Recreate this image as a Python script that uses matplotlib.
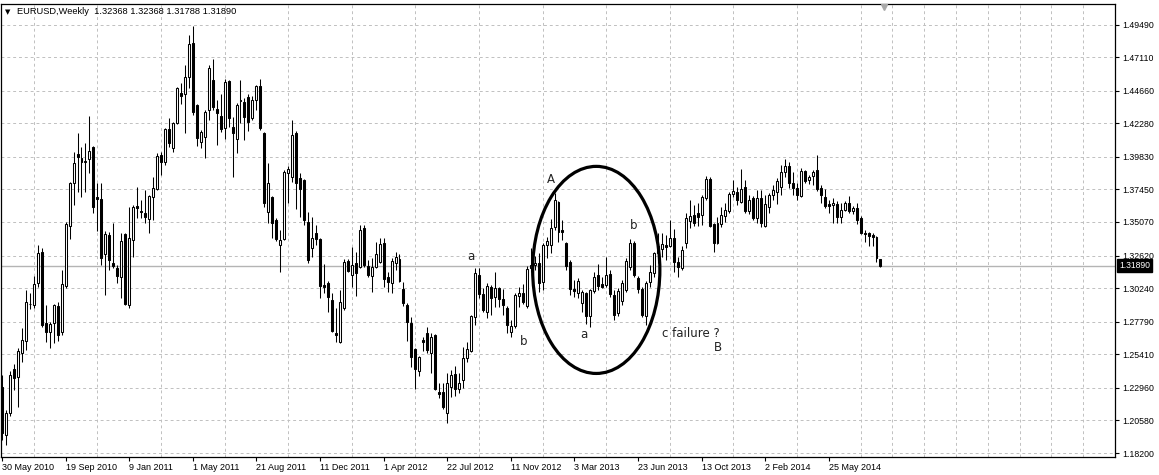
import matplotlib
matplotlib.use("Agg")
import matplotlib.pyplot as plt
import matplotlib.patches as patches

# ── Weekly EURUSD bars, first bar = week of 30 May 2010 ───────────────────────
opens = [
    1.2300, 1.1953, 1.2113, 1.2434, 1.2376, 1.2551, 1.2639, 1.2909, 1.2902, 1.3062,
    1.3288, 1.2770, 1.2704, 1.2770, 1.2894, 1.2704, 1.3040, 1.3478, 1.3792, 1.4004,
    1.3975, 1.3945, 1.3967, 1.4055, 1.3690, 1.3675, 1.3274, 1.3413, 1.3208, 1.3172,
    1.3106, 1.3420, 1.2902, 1.3376, 1.3624, 1.3588, 1.3573, 1.3529, 1.3690, 1.3748,
    1.3997, 1.3945, 1.4186, 1.4048, 1.4230, 1.4449, 1.4442, 1.4566, 1.4814, 1.4362,
    1.4091, 1.4128, 1.4325, 1.4544, 1.4332, 1.4281, 1.4194, 1.4537, 1.4201, 1.4113,
    1.4391, 1.4383, 1.4420, 1.4267, 1.4398, 1.4500, 1.4157, 1.3580, 1.3690, 1.3522,
    1.3340, 1.3383, 1.3865, 1.3836, 1.4157, 1.3829, 1.3814, 1.3507, 1.3318, 1.3427,
    1.3383, 1.3048, 1.3062, 1.2938, 1.2697, 1.2632, 1.2880, 1.3223, 1.3121, 1.3208,
    1.3179, 1.3464, 1.3186, 1.3113, 1.3179, 1.3215, 1.3354, 1.3106, 1.3062, 1.3208,
    1.3237, 1.3018, 1.2902, 1.2770, 1.2580, 1.2420, 1.2646, 1.2697, 1.2551, 1.2683,
    1.2266, 1.2266, 1.2113, 1.2303, 1.2398, 1.2288, 1.2354, 1.2515, 1.2566, 1.2814,
    1.3121, 1.2982, 1.2850, 1.3033, 1.2960, 1.3026, 1.2945, 1.2880, 1.2704, 1.2748,
    1.2967, 1.2989, 1.2894, 1.3172, 1.3193, 1.3208, 1.3069, 1.3340, 1.3340, 1.3471,
    1.3653, 1.3449, 1.3354, 1.3215, 1.3018, 1.2989, 1.2916, 1.2989, 1.2821, 1.3004,
    1.3121, 1.3055, 1.3048, 1.3128, 1.2975, 1.2843, 1.2931, 1.3011, 1.3179, 1.3354,
    1.3099, 1.3018, 1.2821, 1.3069, 1.3135, 1.3281, 1.3310, 1.3340, 1.3332, 1.3391,
    1.3215, 1.3172, 1.3354, 1.3515, 1.3559, 1.3573, 1.3559, 1.3683, 1.3821, 1.3493,
    1.3354, 1.3493, 1.3551, 1.3588, 1.3712, 1.3726, 1.3653, 1.3763, 1.3588, 1.3683,
    1.3537, 1.3683, 1.3478, 1.3617, 1.3705, 1.3726, 1.3763, 1.3872, 1.3916, 1.3792,
    1.3756, 1.3697, 1.3880, 1.3814, 1.3843, 1.3887, 1.3756, 1.3690, 1.3639, 1.3631,
    1.3639, 1.3544, 1.3595, 1.3646, 1.3588, 1.3610, 1.3537, 1.3427, 1.3427, 1.3413,
    1.3398, 1.32368,
]
highs = [
    1.2391, 1.2135, 1.2420, 1.2471, 1.2588, 1.2734, 1.3011, 1.2989, 1.3113, 1.3340,
    1.3318, 1.2902, 1.2777, 1.2909, 1.2923, 1.3157, 1.3507, 1.3800, 1.4018, 1.4157,
    1.4055, 1.4084, 1.4281, 1.4062, 1.3792, 1.3792, 1.3442, 1.3434, 1.3500, 1.3193,
    1.3427, 1.3427, 1.3617, 1.3631, 1.3763, 1.3668, 1.3741, 1.3705, 1.3836, 1.4011,
    1.4018, 1.4194, 1.4267, 1.4237, 1.4493, 1.4522, 1.4653, 1.4873, 1.4938, 1.4369,
    1.4179, 1.4325, 1.4653, 1.4697, 1.4398, 1.4442, 1.4551, 1.4544, 1.4274, 1.4376,
    1.4544, 1.4413, 1.4442, 1.4427, 1.4508, 1.4551, 1.4164, 1.3938, 1.3697, 1.3537,
    1.3449, 1.3887, 1.3916, 1.4252, 1.4172, 1.3865, 1.3821, 1.3580, 1.3544, 1.3486,
    1.3391, 1.3201, 1.3077, 1.2989, 1.2880, 1.3011, 1.3237, 1.3237, 1.3325, 1.3288,
    1.3486, 1.3486, 1.3230, 1.3245, 1.3361, 1.3391, 1.3391, 1.3142, 1.3245, 1.3288,
    1.3274, 1.3069, 1.2916, 1.2814, 1.2588, 1.2529, 1.2668, 1.2741, 1.2697, 1.2690,
    1.2332, 1.2332, 1.2405, 1.2427, 1.2456, 1.2405, 1.2595, 1.2632, 1.2829, 1.3172,
    1.3172, 1.3026, 1.3062, 1.3048, 1.3142, 1.3033, 1.3018, 1.2894, 1.2792, 1.2989,
    1.3033, 1.3055, 1.3186, 1.3318, 1.3259, 1.3281, 1.3354, 1.3398, 1.3529, 1.3719,
    1.3661, 1.3522, 1.3361, 1.3230, 1.3084, 1.3099, 1.3011, 1.2996, 1.3018, 1.3142,
    1.3201, 1.3106, 1.3252, 1.3157, 1.3011, 1.3026, 1.3084, 1.3245, 1.3383, 1.3369,
    1.3113, 1.3033, 1.3077, 1.3193, 1.3288, 1.3427, 1.3427, 1.3413, 1.3522, 1.3456,
    1.3252, 1.3332, 1.3573, 1.3668, 1.3631, 1.3646, 1.3705, 1.3843, 1.3836, 1.3500,
    1.3544, 1.3617, 1.3646, 1.3726, 1.3814, 1.3763, 1.3894, 1.3814, 1.3705, 1.3697,
    1.3741, 1.3741, 1.3705, 1.3719, 1.3778, 1.3829, 1.3924, 1.3967, 1.3945, 1.3872,
    1.3792, 1.3902, 1.3887, 1.3851, 1.3887, 1.3997, 1.3778, 1.3748, 1.3668, 1.3683,
    1.3661, 1.3646, 1.3661, 1.3697, 1.3624, 1.3646, 1.3551, 1.3449, 1.3434, 1.3427,
    1.3405, 1.32368,
]
lows = [
    1.1916, 1.1880, 1.2091, 1.2281, 1.2157, 1.2485, 1.2573, 1.2872, 1.2880, 1.3033,
    1.2741, 1.2632, 1.2588, 1.2624, 1.2639, 1.2683, 1.3026, 1.3383, 1.3631, 1.3726,
    1.3690, 1.3726, 1.3865, 1.3573, 1.3442, 1.3193, 1.2975, 1.3157, 1.3172, 1.3062,
    1.2953, 1.2902, 1.2880, 1.3252, 1.3537, 1.3537, 1.3500, 1.3427, 1.3522, 1.3741,
    1.3851, 1.3924, 1.4055, 1.4018, 1.4223, 1.4369, 1.4157, 1.4486, 1.4288, 1.4062,
    1.4048, 1.3975, 1.4252, 1.4325, 1.4070, 1.4164, 1.4113, 1.4201, 1.3836, 1.4011,
    1.4230, 1.4106, 1.4172, 1.4252, 1.4325, 1.4179, 1.3617, 1.3500, 1.3391, 1.3369,
    1.3142, 1.3376, 1.3646, 1.3799, 1.3602, 1.3544, 1.3486, 1.3208, 1.3252, 1.3340,
    1.2953, 1.2989, 1.2850, 1.2704, 1.2632, 1.2624, 1.2865, 1.3142, 1.3033, 1.2967,
    1.3172, 1.3179, 1.3106, 1.2996, 1.3172, 1.3208, 1.3033, 1.2996, 1.2989, 1.3157,
    1.3069, 1.2894, 1.2639, 1.2449, 1.2288, 1.2383, 1.2566, 1.2551, 1.2405, 1.2281,
    1.2223, 1.2142, 1.2040, 1.2230, 1.2237, 1.2259, 1.2296, 1.2485, 1.2558, 1.2756,
    1.2953, 1.2850, 1.2807, 1.2829, 1.2887, 1.2887, 1.2829, 1.2697, 1.2668, 1.2734,
    1.2887, 1.2909, 1.2880, 1.3142, 1.3157, 1.2996, 1.3011, 1.3245, 1.3281, 1.3449,
    1.3361, 1.3376, 1.3157, 1.2975, 1.2960, 1.2953, 1.2850, 1.2763, 1.2741, 1.2989,
    1.3011, 1.3026, 1.3033, 1.2960, 1.2792, 1.2821, 1.2902, 1.2996, 1.3157, 1.3106,
    1.2989, 1.2814, 1.2756, 1.3033, 1.3106, 1.3208, 1.3252, 1.3230, 1.3325, 1.3142,
    1.3106, 1.3157, 1.3318, 1.3464, 1.3478, 1.3478, 1.3486, 1.3668, 1.3471, 1.3288,
    1.3347, 1.3471, 1.3507, 1.3573, 1.3690, 1.3631, 1.3646, 1.3573, 1.3566, 1.3522,
    1.3500, 1.3471, 1.3471, 1.3573, 1.3668, 1.3639, 1.3705, 1.3836, 1.3756, 1.3705,
    1.3668, 1.3690, 1.3792, 1.3785, 1.3778, 1.3734, 1.3646, 1.3610, 1.3573, 1.3500,
    1.3500, 1.3500, 1.3588, 1.3573, 1.3566, 1.3493, 1.3420, 1.3361, 1.3332, 1.3332,
    1.3215, 1.31788,
]
closes = [
    1.1967, 1.2113, 1.2391, 1.2369, 1.2566, 1.2646, 1.2923, 1.2905, 1.3055, 1.3281,
    1.2756, 1.2704, 1.2763, 1.2902, 1.2683, 1.3055, 1.3493, 1.3792, 1.3938, 1.3982,
    1.3945, 1.3950, 1.4026, 1.3617, 1.3675, 1.3245, 1.3420, 1.3230, 1.3186, 1.3113,
    1.3369, 1.2909, 1.3391, 1.3617, 1.3610, 1.3580, 1.3544, 1.3697, 1.3756, 1.3989,
    1.3945, 1.4186, 1.4084, 1.4230, 1.4486, 1.4427, 1.4566, 1.4807, 1.4310, 1.4121,
    1.4164, 1.4310, 1.4632, 1.4347, 1.4303, 1.4186, 1.4529, 1.4267, 1.4157, 1.4362,
    1.4398, 1.4274, 1.4237, 1.4398, 1.4500, 1.4194, 1.3646, 1.3792, 1.3500, 1.3383,
    1.3376, 1.3872, 1.3894, 1.4143, 1.3792, 1.3748, 1.3522, 1.3230, 1.3391, 1.3383,
    1.3040, 1.3033, 1.2960, 1.2712, 1.2683, 1.2923, 1.3215, 1.3150, 1.3193, 1.3135,
    1.3449, 1.3193, 1.3121, 1.3179, 1.3274, 1.3347, 1.3091, 1.3069, 1.3223, 1.3252,
    1.3077, 1.2916, 1.2777, 1.2522, 1.2434, 1.2522, 1.2632, 1.2573, 1.2668, 1.2288,
    1.2252, 1.2157, 1.2332, 1.2391, 1.2288, 1.2332, 1.2515, 1.2580, 1.2821, 1.3135,
    1.2982, 1.2865, 1.3040, 1.2953, 1.3026, 1.2945, 1.2902, 1.2756, 1.2748, 1.2975,
    1.2989, 1.2923, 1.3164, 1.3193, 1.3208, 1.3062, 1.3340, 1.3369, 1.3464, 1.3668,
    1.3434, 1.3434, 1.3186, 1.3018, 1.3004, 1.3077, 1.2996, 1.2821, 1.3011, 1.3106,
    1.3040, 1.3033, 1.3121, 1.2982, 1.2829, 1.3004, 1.3062, 1.3223, 1.3354, 1.3121,
    1.3018, 1.2829, 1.3062, 1.3142, 1.3281, 1.3332, 1.3347, 1.3325, 1.3391, 1.3215,
    1.3179, 1.3303, 1.3537, 1.3551, 1.3500, 1.3544, 1.3690, 1.3821, 1.3478, 1.3354,
    1.3500, 1.3559, 1.3595, 1.3712, 1.3734, 1.3668, 1.3748, 1.3588, 1.3668, 1.3537,
    1.3683, 1.3500, 1.3639, 1.3705, 1.3741, 1.3807, 1.3872, 1.3916, 1.3792, 1.3756,
    1.3705, 1.3880, 1.3807, 1.3836, 1.3872, 1.3748, 1.3705, 1.3624, 1.3624, 1.3646,
    1.3544, 1.3595, 1.3646, 1.3588, 1.3610, 1.3522, 1.3427, 1.3420, 1.3405, 1.3398,
    1.3245, 1.31890,
]

date_labels = [
    "30 May 2010", "19 Sep 2010", "9 Jan 2011", "1 May 2011", "21 Aug 2011",
    "11 Dec 2011", "1 Apr 2012", "22 Jul 2012", "11 Nov 2012", "3 Mar 2013",
    "23 Jun 2013", "13 Oct 2013", "2 Feb 2014", "25 May 2014",
]
LABEL_EVERY = 16   # bars between date labels
GRID_EVERY = 8     # bars between vertical grid lines

price_ticks = [
    1.18200, 1.20580, 1.22960, 1.25410, 1.27790, 1.30240, 1.32620,
    1.35070, 1.37450, 1.39830, 1.42280, 1.44660, 1.47110, 1.49490,
]

header = "EURUSD,Weekly  1.32368 1.32368 1.31788 1.31890"

# hand-drawn wave marks: (bar, price, text)
marks = [
    (118.0, 1.3252, "a"),
    (131.3, 1.2632, "b"),
    (138.0, 1.3814, "A"),
    (146.3, 1.2683, "a"),
    (158.8, 1.3478, "b"),
    (180.0, 1.2588, "B"),
]

# ── Figure / axes, pixel-matched to the 1159x475 MT4 screenshot ──────────────
W, H = 1159, 475
fig = plt.figure(figsize=(W / 100, H / 100), dpi=100)
ax = fig.add_axes([1 / W, (H - 457) / H, (1115 - 1) / W, (457 - 4) / H])
ax.set_xlim(-0.25, 278.25)
ax.set_ylim(1.17909, 1.50987)

FONT = "Liberation Sans"
GRID = dict(color="#c0c0c0", lw=0.7, ls=(0, (3, 3)))

# candles
n = len(closes)
BODY_W = 0.5
for i in range(n):
    o, h, l, c = opens[i], highs[i], lows[i], closes[i]
    ax.vlines(i, l, h, color="black", lw=0.75, zorder=3)
    bull = c >= o
    lo = min(o, c)
    hgt = max(abs(c - o), 0.0002)
    ax.add_patch(patches.Rectangle(
        (i - BODY_W / 2, lo), BODY_W, hgt,
        facecolor="white" if bull else "black",
        edgecolor="black", lw=0.75, zorder=4,
    ))

# current price line + price tag
ax.axhline(closes[-1], color="#b4b4b4", lw=1.0, zorder=2)
ax.text(1.0 + 4 / 1114, closes[-1], f"{closes[-1]:.5f}",
        transform=ax.get_yaxis_transform(), ha="left", va="center",
        fontsize=6.2, family=FONT, color="white", clip_on=False,
        bbox=dict(boxstyle="square,pad=0.2", fc="black", ec="black"))

# grid
ax.set_yticks(price_ticks)
ax.set_yticklabels([f"{v:.5f}" for v in price_ticks])
ax.yaxis.tick_right()
ax.set_xticks(range(0, LABEL_EVERY * len(date_labels), LABEL_EVERY))
ax.set_xticklabels(date_labels, ha="left")
ax.set_xticks(range(0, n + 60, GRID_EVERY), minor=True)
ax.grid(axis="y", which="major", **GRID)
ax.grid(axis="x", which="minor", **GRID)
ax.set_axisbelow(True)
ax.tick_params(axis="x", which="major", length=3, width=0.8, pad=1.5,
               labelsize=6.5, labelfontfamily=FONT)
ax.tick_params(axis="x", which="minor", length=0)
ax.tick_params(axis="y", length=3, width=0.8, pad=2, labelsize=6.3,
               labelfontfamily=FONT)
for s in ax.spines.values():
    s.set_linewidth(0.9)
    s.set_color("black")

# annotations
for bx, py, t in marks:
    ax.text(bx, py, t, ha="center", va="center", fontsize=8.5,
            family="DejaVu Sans", color="#222222", zorder=6)
ax.text(166.0, 1.2690, "c failure ?", ha="left", va="center", fontsize=8.5,
        family="DejaVu Sans", color="#222222", zorder=6)
ax.add_patch(patches.Ellipse((149.5, 1.3157), width=32, height=0.1512,
                             fill=False, ec="black", lw=2.3, zorder=5))

# chart-shift marker
ax.plot([222], [0.994], marker="v", ms=4.5, color="#a8a8a8", mec="#a8a8a8",
        transform=ax.get_xaxis_transform(), clip_on=False, zorder=6)

# header
fig.text(5 / W, 1 - 12 / H, "\u25bc", fontsize=5, family="DejaVu Sans",
         va="center", ha="left")
fig.text(17 / W, 1 - 12 / H, header, fontsize=6.7, family=FONT,
         va="center", ha="left")

fig.savefig("out.png", dpi=100)
